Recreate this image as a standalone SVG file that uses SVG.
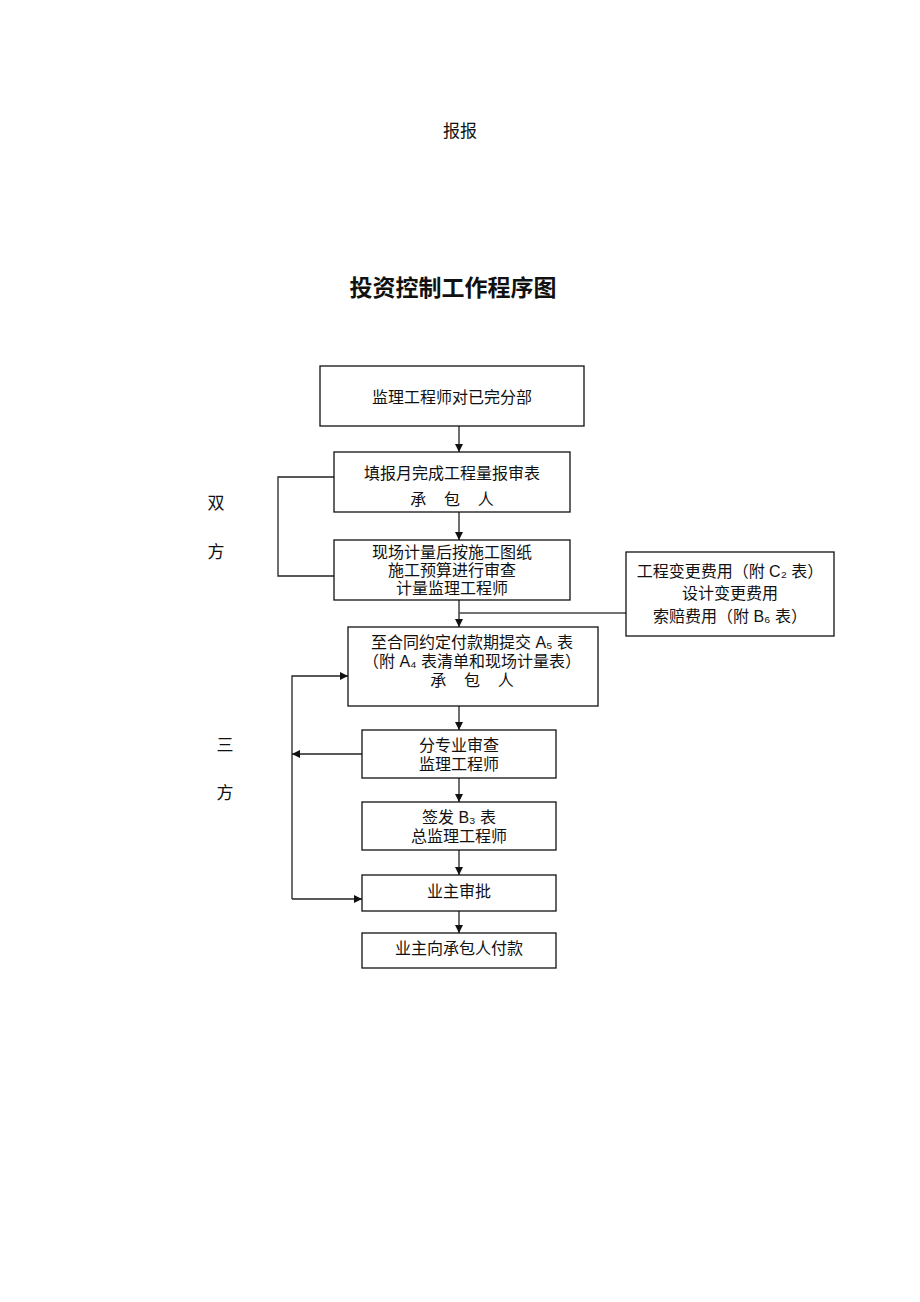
<svg xmlns="http://www.w3.org/2000/svg" width="920" height="1302" viewBox="0 0 920 1302">
<style>
.t{font-family:"Liberation Sans","Noto Sans","Noto Sans CJK SC",sans-serif;font-size:16px;fill:#111;text-anchor:middle}
.box{fill:#fff;stroke:#111;stroke-width:1.3}
.ln{fill:none;stroke:#222;stroke-width:1.3}
.side{font-family:"Noto Sans CJK SC",sans-serif;font-size:17px;fill:#111;text-anchor:middle}
</style>
<defs>
<marker id="ah" viewBox="0 0 10 10" refX="10" refY="5" markerWidth="8" markerHeight="8" markerUnits="userSpaceOnUse" orient="auto"><path d="M0,0 L10,5 L0,10 z" fill="#111"/></marker>
</defs>
<rect width="920" height="1302" fill="#fff"/>
<text x="460" y="137" class="side">报报</text>
<text x="453" y="296" style="font-family:'Noto Sans CJK SC',sans-serif;font-size:23px;font-weight:bold;fill:#111;text-anchor:middle">投资控制工作程序图</text>
<g id="labels">
<text x="216" y="509" class="side">双</text>
<text x="216" y="558" class="side">方</text>
<text x="225" y="751" class="side">三</text>
<text x="225" y="799" class="side">方</text>
</g>
<g id="connectors">
<line class="ln" x1="459" y1="426" x2="459" y2="452" marker-end="url(#ah)"/>
<line class="ln" x1="459" y1="512" x2="459" y2="540" marker-end="url(#ah)"/>
<polyline class="ln" points="334,477 278,477 278,576 334,576"/>
<line class="ln" x1="459" y1="600" x2="459" y2="627" marker-end="url(#ah)"/>
<line class="ln" x1="459" y1="613" x2="626" y2="613" style="stroke:#444"/>
<line class="ln" x1="459" y1="706" x2="459" y2="730" marker-end="url(#ah)"/>
<line class="ln" x1="459" y1="778" x2="459" y2="802" marker-end="url(#ah)"/>
<line class="ln" x1="459" y1="850" x2="459" y2="875" marker-end="url(#ah)"/>
<line class="ln" x1="459" y1="911" x2="459" y2="933" marker-end="url(#ah)"/>
<polyline class="ln" points="292,899 292,676 348,676" marker-end="url(#ah)"/>
<line class="ln" x1="362" y1="754" x2="292" y2="754" marker-end="url(#ah)"/>
<line class="ln" x1="292" y1="899" x2="362" y2="899" marker-end="url(#ah)"/>
</g>
<g id="n1"><rect class="box" x="320" y="366" width="264" height="60"/><text class="t" x="452" y="403">监理工程师对已完分部</text></g>
<g id="n2"><rect class="box" x="334" y="452" width="236" height="60"/><text class="t" x="452" y="479">填报月完成工程量报审表</text><text class="t" x="452" y="505" xml:space="preserve">承    包    人</text></g>
<g id="n3"><rect class="box" x="334" y="540" width="236" height="60"/><text class="t" x="452" y="558">现场计量后按施工图纸</text><text class="t" x="452" y="576">施工预算进行审查</text><text class="t" x="452" y="594">计量监理工程师</text></g>
<g id="n4"><rect class="box" x="626" y="552" width="208" height="84"/><text class="t" x="730" y="577">工程变更费用（附 C₂ 表）</text><text class="t" x="730" y="599">设计变更费用</text><text class="t" x="730" y="622">索赔费用（附 B₆ 表）</text></g>
<g id="n5"><rect class="box" x="348" y="627" width="250" height="79"/><text class="t" x="472" y="648">至合同约定付款期提交 A₅ 表</text><text class="t" x="472" y="667">（附 A₄ 表清单和现场计量表）</text><text class="t" x="472" y="686" xml:space="preserve">承    包    人</text></g>
<g id="n6"><rect class="box" x="362" y="730" width="194" height="48"/><text class="t" x="459" y="751">分专业审查</text><text class="t" x="459" y="770">监理工程师</text></g>
<g id="n7"><rect class="box" x="362" y="802" width="194" height="48"/><text class="t" x="459" y="823">签发 B₃ 表</text><text class="t" x="459" y="842">总监理工程师</text></g>
<g id="n8"><rect class="box" x="362" y="875" width="194" height="36"/><text class="t" x="459" y="897">业主审批</text></g>
<g id="n9"><rect class="box" x="362" y="933" width="194" height="35"/><text class="t" x="459" y="954">业主向承包人付款</text></g>
</svg>
